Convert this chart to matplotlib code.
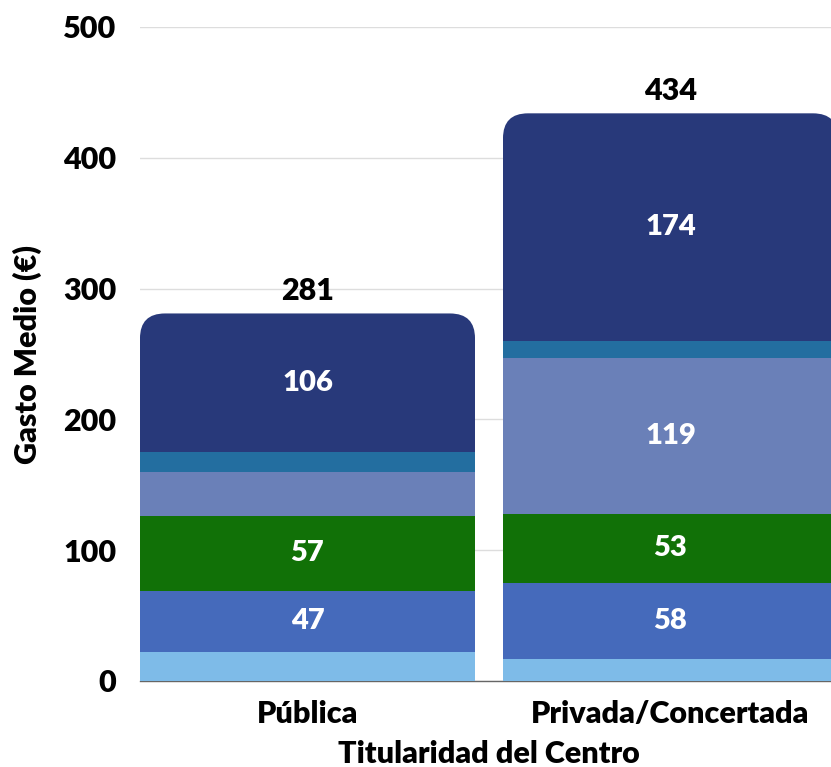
import numpy as np
import matplotlib
matplotlib.use("Agg")
import matplotlib.pyplot as plt
from matplotlib.patches import FancyBboxPatch

# --- datos ---
categorias = ["Pública", "Privada/Concertada"]
# segmentos de abajo hacia arriba
seg_celeste = [22, 17]
seg_azul = [47, 58]
seg_verde = [57, 53]
seg_lavanda = [34, 119]
seg_turquesa = [15, 13]
seg_marino = [106, 174]
totales = [281, 434]

segmentos = [seg_celeste, seg_azul, seg_verde, seg_lavanda, seg_turquesa, seg_marino]
colores = ["#7ebbe8", "#456abb", "#117107", "#6a80b8", "#236ea0", "#28397a"]
UMBRAL_ETIQUETA = 40
PESO = "heavy"

plt.rcParams['font.family'] = ['Lato', 'DejaVu Sans']

W, H, DPI = 831, 767, 100
fig = plt.figure(figsize=(W / DPI, H / DPI), dpi=DPI)

# ejes: izquierda 140 px, abajo 681 px, arriba 27 px; cada categoria 363 px
ax_left, ax_right = 140, 838
ax_top, ax_bottom = 27, 681
ax = fig.add_axes([ax_left / W, (H - ax_bottom) / H,
                   (ax_right - ax_left) / W, (ax_bottom - ax_top) / H])

ancho = 0.923
x = np.arange(len(categorias))
ax.set_xlim(-0.4614, 1.4614)
ax.set_ylim(0, 500)

# relacion de aspecto para redondear esquinas
px_x = (ax_right - ax_left) / (1.4614 + 0.4614)   # px por unidad x
px_y = (ax_bottom - ax_top) / 500.0                # px por unidad y
aspecto = px_x / px_y
radio = 25 / px_x

for i in range(len(categorias)):
    clip = FancyBboxPatch((x[i] - ancho / 2, -100), ancho, totales[i] + 100,
                          boxstyle=f"round,pad=0,rounding_size={radio}",
                          mutation_aspect=aspecto, transform=ax.transData,
                          facecolor="none", edgecolor="none")
    ax.add_patch(clip)
    base = 0
    for seg, col in zip(segmentos, colores):
        v = seg[i]
        b = ax.bar(x[i], v, ancho, bottom=base, color=col, linewidth=0, zorder=3)
        b[0].set_clip_path(clip)
        if v >= UMBRAL_ETIQUETA:
            ax.text(x[i], base + v / 2, f"{v}", ha="center", va="center",
                    color="white", fontsize=21, fontweight=PESO, zorder=5)
        base += v
    ax.annotate(f"{totales[i]}", (x[i], totales[i]), xytext=(0, 6),
                textcoords="offset points", ha="center", va="bottom",
                fontsize=22, fontweight=PESO, color="black")

ax.set_yticks([0, 100, 200, 300, 400, 500])
ax.grid(axis="y", color="#dddddd", linewidth=1, zorder=0)
ax.set_axisbelow(True)
for s in ["top", "right", "left"]:
    ax.spines[s].set_visible(False)
ax.spines["bottom"].set_color("#666666")
ax.spines["bottom"].set_linewidth(1)

ax.tick_params(axis="y", length=0, pad=17, labelsize=22)
ax.tick_params(axis="x", length=0, pad=14, labelsize=22)
for lab in ax.get_yticklabels() + ax.get_xticklabels():
    lab.set_fontweight(PESO)
ax.set_xticks(x)
ax.set_xticklabels(categorias)

ax.set_ylabel("Gasto Medio (€)", fontsize=22, fontweight=PESO, labelpad=15)
ax.set_xlabel("Titularidad del Centro", fontsize=22, fontweight=PESO, labelpad=8)

fig.savefig("out.png", dpi=DPI)
